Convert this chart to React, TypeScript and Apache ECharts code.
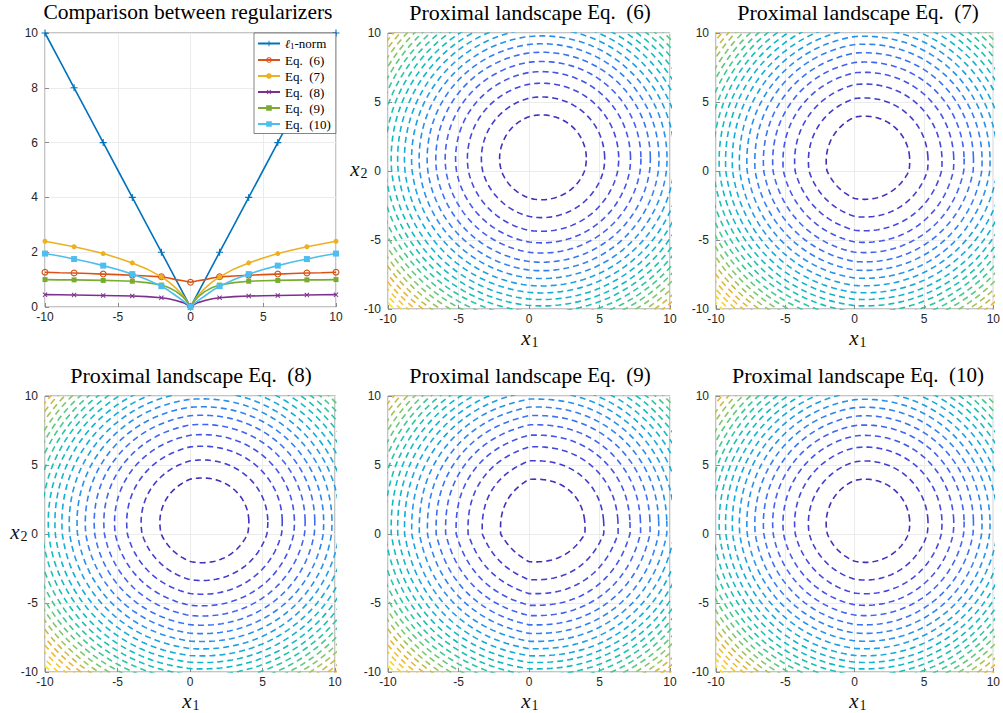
import React, { useEffect, useRef } from "react";
import * as echarts from "echarts";

// ---------- Panel 1 data (regularizers, symmetric in x) ----------
const HALF_X = [0, 0.25, 0.5, 1, 1.5, 2, 3, 4, 5, 6, 7, 8, 9, 10];
const L1_NORM = [0, 0.25, 0.5, 1, 1.5, 2, 3, 4, 5, 6, 7, 8, 9, 10];
const EQ6 = [0.9, 0.93, 0.96, 1.0, 1.06, 1.1, 1.13, 1.16, 1.18, 1.2, 1.22, 1.24, 1.25, 1.27];
const EQ7 = [0, 0.22, 0.41, 0.69, 0.92, 1.1, 1.39, 1.61, 1.79, 1.95, 2.08, 2.2, 2.3, 2.4];
const EQ8 = [0, 0.09, 0.16, 0.24, 0.3, 0.34, 0.38, 0.4, 0.41, 0.42, 0.43, 0.44, 0.445, 0.45];
const EQ9 = [0, 0.2, 0.36, 0.57, 0.71, 0.8, 0.89, 0.94, 0.96, 0.97, 0.98, 0.99, 0.99, 1.0];
const EQ10 = [0, 0.12, 0.22, 0.41, 0.6, 0.76, 1.0, 1.2, 1.37, 1.51, 1.64, 1.75, 1.86, 1.95];
const MARKER_X = [-10, -8, -6, -4, -2, 0, 2, 4, 6, 8, 10];

const SERIES_NAMES = ["ℓ1-norm", "Eq. (6)", "Eq. (7)", "Eq. (8)", "Eq. (9)", "Eq. (10)"];
const SERIES_VALUES = [L1_NORM, EQ6, EQ7, EQ8, EQ9, EQ10];
const SERIES_COLORS = ["#0072BD", "#D95319", "#EDB120", "#7E2F8E", "#77AC30", "#4DBEEE"];

// ---------- Contour panels ----------
const CONTOUR_TITLES = ["Eq. (6)", "Eq. (7)", "Eq. (8)", "Eq. (9)", "Eq. (10)"];
const CONTOUR_REGS = [EQ6, EQ7, EQ8, EQ9, EQ10];
const CONTOUR_WEIGHTS = [1.0, 0.5, 1.0, 1.0, 0.6];
const CONTOUR_CENTER = [1, 1];
const CONTOUR_COUNT = 24;

const PARULA_STOPS = [
  "#3E26A8", "#4640D8", "#4262F2", "#2B8AF0", "#14ABD8",
  "#10BEBC", "#40C890", "#90C860", "#E8B438", "#F8C82C", "#F9FB14",
];

const PLUS_PATH = "path://M4.2,0H5.8V4.2H10V5.8H5.8V10H4.2V5.8H0V4.2H4.2Z";
const RING_PATH = "path://M5,0A5,5 0 1,1 4.99,0Z M5,1.7A3.3,3.3 0 1,0 5.01,1.7Z";

function hexToRgb(h: string) {
  return [parseInt(h.slice(1, 3), 16), parseInt(h.slice(3, 5), 16), parseInt(h.slice(5, 7), 16)];
}
function parula(t: number) {
  const tt = Math.max(0, Math.min(1, t)) * (PARULA_STOPS.length - 1);
  const i = Math.min(PARULA_STOPS.length - 2, Math.floor(tt));
  const f = tt - i;
  const a = hexToRgb(PARULA_STOPS[i]);
  const b = hexToRgb(PARULA_STOPS[i + 1]);
  const c = a.map((v, k) => Math.round(v + (b[k] - v) * f));
  return `rgb(${c[0]},${c[1]},${c[2]})`;
}

function interpReg(table: number[], x: number) {
  const a = Math.abs(x);
  const n = HALF_X.length;
  if (a >= HALF_X[n - 1]) return table[n - 1];
  for (let i = 0; i < n - 1; i++) {
    if (a <= HALF_X[i + 1]) {
      const f = (a - HALF_X[i]) / (HALF_X[i + 1] - HALF_X[i]);
      return table[i] + (table[i + 1] - table[i]) * f;
    }
  }
  return table[n - 1];
}

function landscape(reg: number[], w: number, x1: number, x2: number) {
  const dx = x1 - CONTOUR_CENTER[0];
  const dy = x2 - CONTOUR_CENTER[1];
  return 0.5 * (dx * dx + dy * dy) + w * (interpReg(reg, x1) + interpReg(reg, x2));
}

function contourSeries(panel: number) {
  const reg = CONTOUR_REGS[panel];
  const w = CONTOUR_WEIGHTS[panel];
  let mn = Infinity;
  let mx = -Infinity;
  for (let i = 0; i <= 100; i++) {
    for (let j = 0; j <= 100; j++) {
      const v = landscape(reg, w, -10 + i * 0.2, -10 + j * 0.2);
      if (v < mn) mn = v;
      if (v > mx) mx = v;
    }
  }
  const out: any[] = [];
  for (let k = 1; k <= CONTOUR_COUNT; k++) {
    const L = mn + (k * (mx - mn)) / (CONTOUR_COUNT + 1);
    const pts: number[][] = [];
    const steps = 240;
    for (let s = 0; s <= steps; s++) {
      const th = (s / steps) * Math.PI * 2;
      const ux = Math.cos(th);
      const uy = Math.sin(th);
      let lo = 0;
      let hi = 30;
      for (let it = 0; it < 40; it++) {
        const m = (lo + hi) / 2;
        const v = landscape(reg, w, CONTOUR_CENTER[0] + m * ux, CONTOUR_CENTER[1] + m * uy);
        if (v < L) lo = m;
        else hi = m;
      }
      const r = (lo + hi) / 2;
      pts.push([CONTOUR_CENTER[0] + r * ux, CONTOUR_CENTER[1] + r * uy]);
    }
    out.push({
      type: "line",
      xAxisIndex: panel + 1,
      yAxisIndex: panel + 1,
      data: pts,
      showSymbol: false,
      symbol: "none",
      silent: true,
      clip: true,
      lineStyle: { color: parula((L - mn) / (mx - mn)), width: 1.6, type: [6, 4] },
      z: 2,
    });
  }
  return out;
}

const GRIDS = [
  { left: 45, top: 33, width: 291, height: 274 },
  { left: 388, top: 33, width: 282, height: 276 },
  { left: 716, top: 33, width: 282, height: 276 },
  { left: 45, top: 396, width: 290, height: 276 },
  { left: 388, top: 396, width: 282, height: 276 },
  { left: 716, top: 396, width: 282, height: 276 },
];

const AXIS_GREY = "#8a8a8a";
const TICK_TEXT = { color: "#262626", fontSize: 12, fontFamily: "Liberation Sans, Arial, sans-serif" };
const TITLE_FONT = "Liberation Serif";

// math label "x" with a subscript, as two small texts; (cx, cy) is the middle of the x text
function mathLabel(cx: number, cy: number, sub: string) {
  return [
    {
      type: "text",
      x: cx - 3,
      y: cy,
      z: 50,
      style: {
        text: "x",
        fontFamily: "Liberation Serif",
        fontStyle: "italic",
        fontSize: 21,
        fill: "#111",
        align: "center",
        verticalAlign: "middle",
      },
    },
    {
      type: "text",
      x: cx + 6,
      y: cy + 4,
      z: 50,
      style: {
        text: sub,
        fontFamily: "Liberation Serif",
        fontSize: 14,
        fill: "#111",
        align: "center",
        verticalAlign: "middle",
      },
    },
  ];
}

function buildOption() {
  const xAxes: any[] = [];
  const yAxes: any[] = [];
  GRIDS.forEach((g, idx) => {
    const isFirst = idx === 0;
    xAxes.push({
      type: "value",
      gridIndex: idx,
      min: -10,
      max: 10,
      interval: 5,
      axisLine: { show: false, onZero: false },
      axisTick: { show: true, inside: true, length: 4, lineStyle: { color: AXIS_GREY } },
      axisLabel: { ...TICK_TEXT, margin: 4 },
      splitLine: { show: true, lineStyle: { color: "#ebebeb", width: 1 } },
    });
    yAxes.push({
      type: "value",
      gridIndex: idx,
      min: isFirst ? 0 : -10,
      max: 10,
      interval: isFirst ? 2 : 5,
      axisLine: { show: false, onZero: false },
      axisTick: { show: true, inside: true, length: 4, lineStyle: { color: AXIS_GREY } },
      axisLabel: { ...TICK_TEXT, margin: 7 },
      splitLine: { show: true, lineStyle: { color: "#ebebeb", width: 1 } },
    });
  });

  const negX = HALF_X.slice(1).map((v) => -v).reverse();
  const fullX = [...negX, ...HALF_X];
  const symbols = [PLUS_PATH, RING_PATH, "circle", PLUS_PATH, "rect", "rect"];
  const sizes = [7, 7, 5, 6, 5, 6];
  const rotates = [0, 0, 0, 45, 0, 0];

  const lineSeries = SERIES_VALUES.map((vals, si) => {
    const fullY = [...vals.slice(1).reverse(), ...vals];
    const data = fullX.map((x, i) => {
      const item: any = { value: [x, fullY[i]] };
      if (!MARKER_X.includes(x)) item.symbol = "none";
      return item;
    });
    return {
      type: "line",
      name: SERIES_NAMES[si],
      xAxisIndex: 0,
      yAxisIndex: 0,
      data,
      symbol: symbols[si],
      symbolSize: sizes[si],
      symbolRotate: rotates[si],
      showSymbol: true,
      showAllSymbol: true,
      color: SERIES_COLORS[si],
      itemStyle: { color: SERIES_COLORS[si], borderWidth: 0 },
      lineStyle: { color: SERIES_COLORS[si], width: 1.6, type: "solid" },
      z: 3 + si,
      clip: true,
    };
  });

  const contours: any[] = [];
  for (let p = 0; p < CONTOUR_TITLES.length; p++) contours.push(...contourSeries(p));

  const titleRich = {
    a: { fontFamily: TITLE_FONT, fontSize: 22, fill: "#000", color: "#000" },
    b: { fontFamily: "Liberation Serif", fontSize: 21, fill: "#000", color: "#000" },
  };
  const graphics: any[] = [
    {
      type: "text",
      x: 188,
      y: 12,
      style: {
        text: "Comparison between regularizers",
        fontFamily: TITLE_FONT,
        fontSize: 21.5,
        fill: "#000",
        align: "center",
        verticalAlign: "middle",
      },
    },
  ];
  CONTOUR_TITLES.forEach((t, p) => {
    const g = GRIDS[p + 1];
    graphics.push({
      type: "text",
      x: g.left + g.width / 2 + 1,
      y: g.top - 21,
      style: {
        text: `{a|Proximal landscape}{b|\u00a0${t.replace(" ", "\u00a0\u00a0")}}`,
        rich: titleRich,
        align: "center",
        verticalAlign: "middle",
      },
    });
  });
  // axis labels x1 (all but first panel) and x2 (panels 2 and 4)
  GRIDS.forEach((g, idx) => {
    if (idx === 0) return;
    graphics.push(...mathLabel(g.left + g.width / 2, g.top + g.height + 29, "1"));
  });
  graphics.push(...mathLabel(358, GRIDS[1].top + GRIDS[1].height / 2 - 2, "2"));
  graphics.push(...mathLabel(18, GRIDS[3].top + GRIDS[3].height / 2 - 2, "2"));

  return {
    animation: false,
    backgroundColor: "#ffffff",
    grid: GRIDS.map((g) => ({ ...g, show: true, borderColor: AXIS_GREY, borderWidth: 1, backgroundColor: "transparent" })),
    xAxis: xAxes,
    yAxis: yAxes,
    legend: {
      data: SERIES_NAMES,
      orient: "vertical",
      left: 254,
      top: 33,
      itemWidth: 22,
      itemHeight: 7,
      itemGap: 3,
      padding: [4, 5, 3, 3],
      backgroundColor: "#ffffff",
      borderColor: "#333",
      borderWidth: 0.6,
      borderRadius: 0,
      selectedMode: false,
      textStyle: {
        fontFamily: "Liberation Serif",
        fontSize: 13,
        color: "#000",
        lineHeight: 12.5,
        rich: {
          i: { fontFamily: "DejaVu Serif", fontStyle: "italic", fontSize: 12, color: "#000" },
          s: { fontFamily: "Liberation Serif", fontSize: 9, color: "#000", padding: [5, 0, 0, 0] },
          t: { fontFamily: "Liberation Serif", fontSize: 13, color: "#000" },
        },
      },
      formatter: (n: string) => (n === SERIES_NAMES[0] ? "{i|ℓ}{s|1}{t|-norm}" : n.replace(" ", "\u00a0\u00a0")),
    },
    series: [...contours, ...lineSeries],
    graphic: graphics,
  };
}

export default function App() {
  const ref = useRef<HTMLDivElement>(null);
  useEffect(() => {
    if (!ref.current) return;
    const chart = echarts.init(ref.current, undefined, { renderer: "svg" });
    chart.setOption(buildOption() as any);
    return () => chart.dispose();
  }, []);
  return (
    <div
      ref={ref}
      style={{ position: "fixed", left: 0, top: 0, width: 1003, height: 713, background: "#fff" }}
    />
  );
}
